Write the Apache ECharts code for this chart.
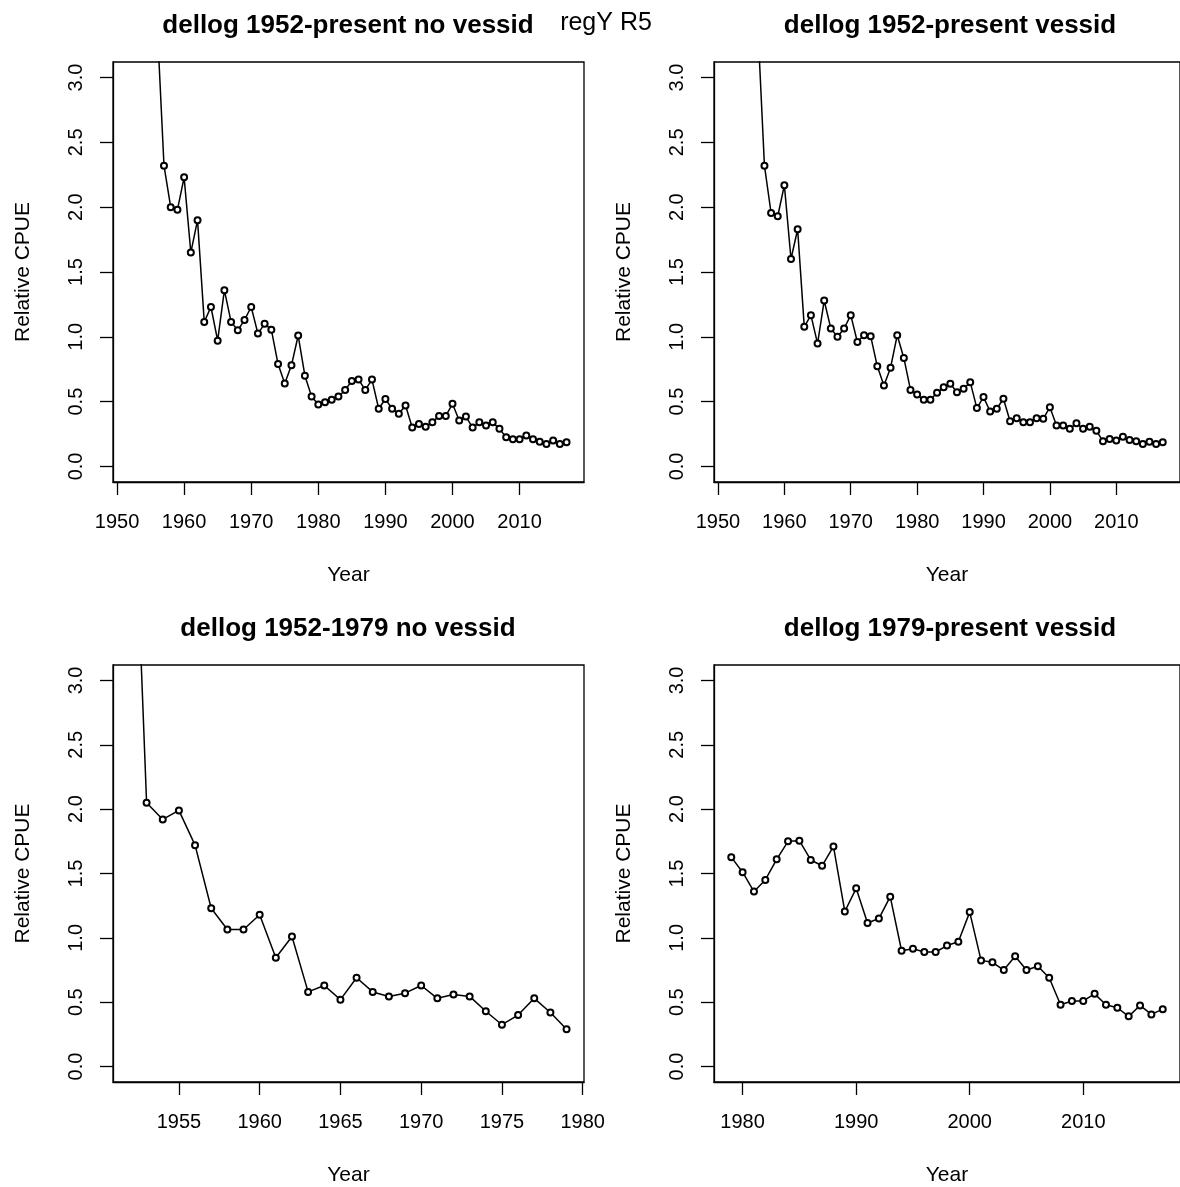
<!DOCTYPE html>
<html>
<head>
<meta charset="utf-8">
<title>regY R5</title>
<script src="https://cdn.jsdelivr.net/npm/echarts@6/dist/echarts.min.js"></script>
<style>
html, body { margin: 0; padding: 0; background: #fff; }
#chart { width: 1180px; height: 1187px; }
</style>
</head>
<body>
<div id="chart"></div>
<script>
// years of the index, 1952-2017
const years = [
  1952, 1953, 1954, 1955, 1956, 1957, 1958, 1959, 1960, 1961,
  1962, 1963, 1964, 1965, 1966, 1967, 1968, 1969, 1970, 1971,
  1972, 1973, 1974, 1975, 1976, 1977, 1978, 1979, 1980, 1981,
  1982, 1983, 1984, 1985, 1986, 1987, 1988, 1989, 1990, 1991,
  1992, 1993, 1994, 1995, 1996, 1997, 1998, 1999, 2000, 2001,
  2002, 2003, 2004, 2005, 2006, 2007, 2008, 2009, 2010, 2011,
  2012, 2013, 2014, 2015, 2016, 2017
]
const yearsEarly = years.slice(0, 28) // 1952-1979
const yearsLate = years.slice(27) // 1979-2017

// relative CPUE (first years run off the top of the plot, estimated)
const cpueAllNoVessid = [
  6.0, 5.0, 4.4, 3.9, 3.4,
  2.32, 2.0, 1.98, 2.23, 1.65, 1.90,
  1.115, 1.23, 0.97, 1.36, 1.115, 1.05, 1.13, 1.23,
  1.025, 1.10, 1.055, 0.79, 0.64, 0.78, 1.01, 0.70, 0.54, 0.478,
  0.496, 0.514, 0.54, 0.59, 0.66, 0.67, 0.59, 0.67, 0.445, 0.52,
  0.445, 0.406, 0.47, 0.30, 0.328, 0.307, 0.34, 0.39, 0.39, 0.483,
  0.354, 0.385, 0.30, 0.34, 0.315, 0.34, 0.29, 0.225, 0.21, 0.21,
  0.238, 0.21, 0.19, 0.173, 0.20, 0.173, 0.186
]
const cpueAllVessid = [
  6.0, 5.0, 4.4, 3.9, 3.4,
  2.32, 1.955, 1.93, 2.17, 1.60, 1.83,
  1.077, 1.167, 0.948, 1.28, 1.064, 1.00, 1.064, 1.167,
  0.96, 1.012, 1.005, 0.772, 0.625, 0.762, 1.012, 0.837, 0.59, 0.555,
  0.514, 0.514, 0.568, 0.61, 0.638, 0.573, 0.60, 0.65, 0.45, 0.535,
  0.424, 0.445, 0.522, 0.349, 0.372, 0.341, 0.341, 0.372, 0.367, 0.457,
  0.315, 0.315, 0.29, 0.333, 0.29, 0.307, 0.276, 0.194, 0.212, 0.20,
  0.23, 0.204, 0.194, 0.173, 0.19, 0.173, 0.186
]
const cpueEarlyNoVessid = [
  5.3,
  2.05, 1.92, 1.99, 1.72, 1.23, 1.065, 1.065, 1.18, 0.845, 1.01,
  0.58, 0.63, 0.52, 0.69, 0.58, 0.545, 0.57, 0.63, 0.53, 0.56,
  0.545, 0.43, 0.325, 0.40, 0.53, 0.42, 0.29
]
const cpueLateVessid = [
  1.627, 1.51, 1.36, 1.45, 1.61, 1.75, 1.755, 1.605, 1.56, 1.71,
  1.205, 1.385, 1.115, 1.15, 1.32, 0.90, 0.915, 0.89, 0.89, 0.94,
  0.97, 1.20, 0.825, 0.81, 0.75, 0.857, 0.75, 0.78, 0.69, 0.48,
  0.51, 0.51, 0.565, 0.48, 0.457, 0.39, 0.475, 0.405, 0.446
]

const yTicks = [0, 0.5, 1, 1.5, 2, 2.5, 3]
const xTicksAll = [1950, 1960, 1970, 1980, 1990, 2000, 2010]
const xTicksEarly = [1955, 1960, 1965, 1970, 1975, 1980]
const xTicksLate = [1980, 1990, 2000, 2010]

const panelTitles = [
  'dellog 1952-present no vessid',
  'dellog 1952-present vessid',
  'dellog 1952-1979 no vessid',
  'dellog 1979-present vessid'
]
const pageLabel = 'regY R5'

const FONT = '"Liberation Sans", Arial, sans-serif'

// R pads each axis by 4% of the data range
function rRange(lo, hi) {
  const d = (hi - lo) * 0.04
  return [lo - d, hi + d]
}

const grids = [
  { left: 113, top: 62, width: 471, height: 420 },
  { left: 714, top: 62, width: 471, height: 420 },
  { left: 113, top: 665, width: 471, height: 420 },
  { left: 714, top: 665, width: 471, height: 420 }
]

const panels = [
  { title: panelTitles[0], xs: years, ys: cpueAllNoVessid, ticks: xTicksAll },
  { title: panelTitles[1], xs: years, ys: cpueAllVessid, ticks: xTicksAll },
  { title: panelTitles[2], xs: yearsEarly, ys: cpueEarlyNoVessid, ticks: xTicksEarly },
  { title: panelTitles[3], xs: yearsLate, ys: cpueLateVessid, ticks: xTicksLate }
]

const yRange = rRange(0, 3)

function xAxisFor(p, i) {
  const r = rRange(p.xs[0], p.xs[p.xs.length - 1])
  return {
    gridIndex: i,
    type: 'value',
    min: r[0],
    max: r[1],
    name: 'Year',
    nameLocation: 'middle',
    nameGap: 83,
    nameTextStyle: { fontSize: 21, color: '#000', fontFamily: FONT },
    axisLine: { show: true, onZero: false, lineStyle: { color: '#000', width: 1.3 } },
    axisTick: { show: true, inside: false, length: 13, customValues: p.ticks, lineStyle: { color: '#000', width: 1.3 } },
    axisLabel: {
      show: true,
      customValues: p.ticks,
      formatter: v => String(v),
      margin: 30,
      fontSize: 20,
      color: '#000',
      fontFamily: FONT
    },
    splitLine: { show: false }
  }
}

function yAxisFor(i) {
  return {
    gridIndex: i,
    type: 'value',
    min: yRange[0],
    max: yRange[1],
    name: 'Relative CPUE',
    nameLocation: 'middle',
    nameRotate: 90,
    nameGap: 79,
    nameTextStyle: { fontSize: 21, color: '#000', fontFamily: FONT },
    axisLine: { show: true, onZero: false, lineStyle: { color: '#000', width: 1.3 } },
    axisTick: { show: true, inside: false, length: 13, customValues: yTicks, lineStyle: { color: '#000', width: 1.3 } },
    axisLabel: {
      show: true,
      rotate: 90,
      customValues: yTicks,
      formatter: v => v.toFixed(1),
      margin: 27,
      fontSize: 20,
      color: '#000',
      fontFamily: FONT
    },
    splitLine: { show: false }
  }
}

const titleCenters = [
  [348, 13], [950, 13], [348, 616], [950, 616]
]

const chart = echarts.init(document.getElementById('chart'))
chart.setOption({
  animation: false,
  backgroundColor: '#fff',
  title: panels.map((p, i) => ({
    text: p.title,
    left: titleCenters[i][0],
    top: titleCenters[i][1],
    textAlign: 'center',
    padding: 0,
    textStyle: { fontSize: 26, fontWeight: 'bold', lineHeight: 26, color: '#000', fontFamily: FONT }
  })).concat([{
    text: pageLabel,
    left: 606,
    top: 11,
    textAlign: 'center',
    padding: 0,
    textStyle: { fontSize: 25, fontWeight: 'normal', lineHeight: 25, color: '#000', fontFamily: FONT }
  }]),
  grid: grids.map(g => Object.assign({
    show: true,
    borderColor: '#000',
    borderWidth: 1.3,
    backgroundColor: 'transparent',
    containLabel: false
  }, g)),
  xAxis: panels.map(xAxisFor),
  yAxis: panels.map((p, i) => yAxisFor(i)),
  series: panels.map((p, i) => ({
    type: 'line',
    xAxisIndex: i,
    yAxisIndex: i,
    data: p.xs.map((x, k) => [x, p.ys[k]]),
    clip: true,
    symbol: 'emptyCircle',
    symbolSize: 6,
    lineStyle: { color: '#000', width: 1.5 },
    itemStyle: { color: '#000', borderColor: '#000', borderWidth: 1.2 }
  }))
})
</script>
</body>
</html>
